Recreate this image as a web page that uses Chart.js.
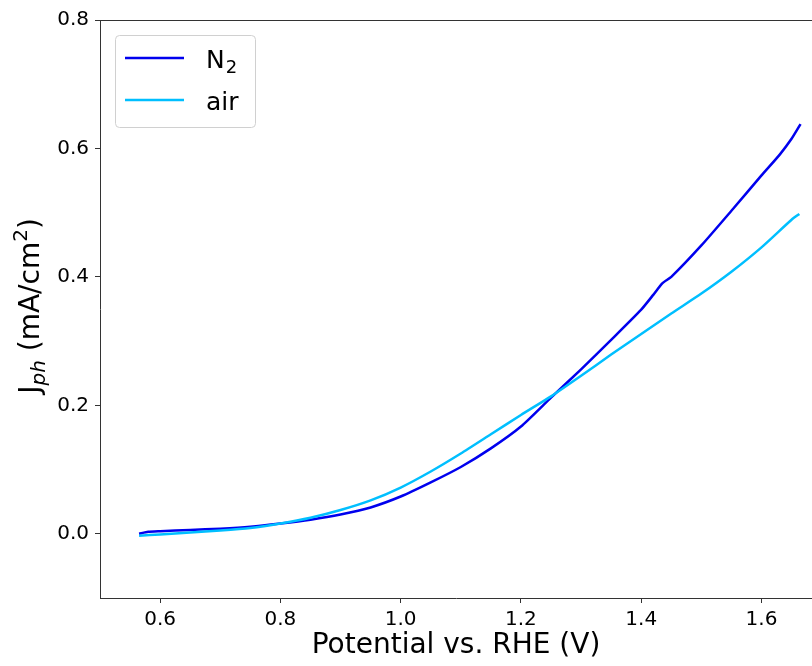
<!doctype html>
<html>

<head>
    <title>Jph vs potential</title>
    <meta charset="utf-8" />
    <script src="https://cdn.jsdelivr.net/npm/chart.js@4.4.0/dist/chart.umd.min.js"></script>
    <style>
        body { margin: 0; overflow: hidden; background: white; }
    </style>
</head>

<body>
    <div style="width: 812px; height: 666px">
        <canvas id="joonis"></canvas>
    </div>
    <script>
        // N2 curve (potential in V vs RHE, current in mA/cm2)
        const potN2 = [0.565, 0.58, 0.6, 0.65, 0.7, 0.75, 0.8, 0.85, 0.9, 0.95, 1.0, 1.05, 1.1, 1.15, 1.2, 1.25, 1.3, 1.35, 1.4, 1.42, 1.435, 1.45, 1.5, 1.55, 1.6, 1.63, 1.65, 1.665];
        const jN2 = [0.000, 0.003, 0.004, 0.006, 0.008, 0.011, 0.016, 0.022, 0.030, 0.041, 0.058, 0.080, 0.104, 0.133, 0.167, 0.212, 0.256, 0.302, 0.349, 0.372, 0.390, 0.400, 0.449, 0.503, 0.558, 0.590, 0.615, 0.638];
        // air curve
        const potAir = [0.565, 0.6, 0.65, 0.7, 0.75, 0.8, 0.85, 0.9, 0.95, 1.0, 1.05, 1.1, 1.15, 1.2, 1.25, 1.3, 1.35, 1.4, 1.45, 1.5, 1.55, 1.6, 1.65, 1.663];
        const jAir = [-0.003, -0.001, 0.002, 0.005, 0.009, 0.016, 0.025, 0.037, 0.052, 0.072, 0.097, 0.125, 0.155, 0.185, 0.214, 0.246, 0.279, 0.311, 0.343, 0.374, 0.408, 0.446, 0.489, 0.498];
        const xTicks = [0.6, 0.8, 1.0, 1.2, 1.4, 1.6];
        const yTicks = [0.0, 0.2, 0.4, 0.6, 0.8];

        const pisted = (xs, ys) => xs.map((x, i) => ({ x: x, y: ys[i] }));
        const font = '"DejaVu Sans", sans-serif';
        const joon = '#333';

        // top spine, legend and y title with sub/superscripts
        const lisad = {
            id: 'lisad',
            afterDraw(chart) {
                const ctx = chart.ctx;
                const a = chart.chartArea;
                ctx.save();
                ctx.strokeStyle = joon;
                ctx.lineWidth = 1;
                ctx.beginPath();
                ctx.moveTo(a.left, a.top + 0.5);
                ctx.lineTo(a.right, a.top + 0.5);
                ctx.stroke();

                // legend
                ctx.fillStyle = 'rgba(255,255,255,0.8)';
                ctx.strokeStyle = '#d0d0d0';
                ctx.beginPath();
                ctx.roundRect(115.5, 35.5, 140, 92, 4);
                ctx.fill();
                ctx.stroke();
                const kirjed = [
                    { color: chart.data.datasets[0].borderColor, y: 58, text: 'N', sub: '2' },
                    { color: chart.data.datasets[1].borderColor, y: 100, text: 'air', sub: '' }
                ];
                kirjed.forEach(k => {
                    ctx.strokeStyle = k.color;
                    ctx.lineWidth = 2.5;
                    ctx.beginPath();
                    ctx.moveTo(125, k.y);
                    ctx.lineTo(184, k.y);
                    ctx.stroke();
                    ctx.fillStyle = '#000';
                    ctx.textBaseline = 'alphabetic';
                    ctx.font = '25px ' + font;
                    ctx.fillText(k.text, 206, k.y + 10);
                    if (k.sub) {
                        const w = ctx.measureText(k.text).width;
                        ctx.font = '18px ' + font;
                        ctx.fillText(k.sub, 206 + w + 1, k.y + 15);
                    }
                });

                // y axis title
                ctx.translate(39, 306);
                ctx.rotate(-Math.PI / 2);
                const osad = [
                    ['J', '28px ' + font, 0],
                    ['ph', 'italic 20px ' + font, 6],
                    [' (mA/cm', '28px ' + font, 0],
                    ['2', '20px ' + font, -12],
                    [')', '28px ' + font, 0]
                ];
                let kokku = 0;
                osad.forEach(o => { ctx.font = o[1]; kokku += ctx.measureText(o[0]).width; });
                let x = -kokku / 2;
                ctx.fillStyle = '#000';
                ctx.textBaseline = 'alphabetic';
                osad.forEach(o => {
                    ctx.font = o[1];
                    ctx.fillText(o[0], x, o[2]);
                    x += ctx.measureText(o[0]).width;
                });
                ctx.restore();
            }
        };

        new Chart(document.getElementById('joonis'), {
            type: 'line',
            data: {
                datasets: [
                    {
                        label: 'N2',
                        data: pisted(potN2, jN2),
                        borderColor: '#0000ee',
                        borderWidth: 2.5,
                        pointRadius: 0,
                        tension: 0.2,
                        order: 1
                    },
                    {
                        label: 'air',
                        data: pisted(potAir, jAir),
                        borderColor: '#00bfff',
                        borderWidth: 2.5,
                        pointRadius: 0,
                        tension: 0.2,
                        order: 0
                    }
                ]
            },
            options: {
                responsive: true,
                maintainAspectRatio: false,
                animation: false,
                layout: { padding: { top: 20, left: 0, right: 0, bottom: 0 } },
                plugins: {
                    legend: { display: false },
                    tooltip: { enabled: false }
                },
                scales: {
                    x: {
                        type: 'linear',
                        min: 0.5,
                        max: 1.684,
                        afterBuildTicks: s => { s.ticks = xTicks.map(v => ({ value: v })); },
                        afterFit: s => { s.height = 68; },
                        border: { color: joon, width: 1 },
                        grid: { drawOnChartArea: false, tickLength: 5, tickColor: joon },
                        ticks: {
                            color: '#000',
                            padding: 5,
                            font: { family: font, size: 20 },
                            callback: v => v.toFixed(1)
                        },
                        title: {
                            display: true,
                            text: 'Potential vs. RHE (V)',
                            color: '#000',
                            font: { family: font, size: 28 },
                            padding: { top: 0, bottom: 3 }
                        }
                    },
                    y: {
                        min: -0.1,
                        max: 0.8,
                        afterBuildTicks: s => { s.ticks = yTicks.map(v => ({ value: v })); },
                        afterFit: s => { s.width = 100; },
                        border: { color: joon, width: 1 },
                        grid: { drawOnChartArea: false, tickLength: 5, tickColor: joon },
                        ticks: {
                            color: '#000',
                            padding: 6,
                            font: { family: font, size: 20 },
                            callback: v => v.toFixed(1)
                        }
                    }
                }
            },
            plugins: [lisad]
        });
    </script>
</body>

</html>
